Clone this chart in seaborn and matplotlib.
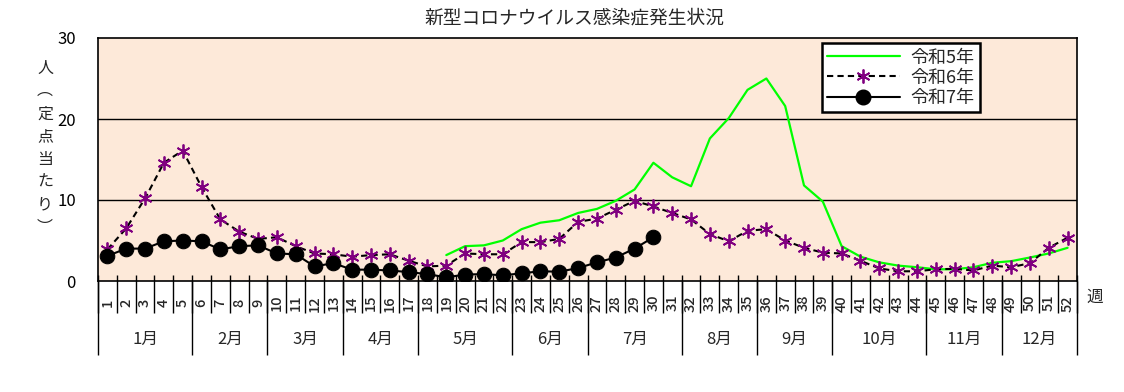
import matplotlib
matplotlib.use("Agg")
import matplotlib.pyplot as plt
import numpy as np
import pandas as pd
import seaborn as sns
from matplotlib.lines import Line2D

sns.set_theme(style="white")
plt.rcParams["font.family"] = ["Noto Sans CJK JP", "DejaVu Sans"]

weeks = list(range(1, 53))
month_labels = ["1月", "2月", "3月", "4月", "5月", "6月",
                "7月", "8月", "9月", "10月", "11月", "12月"]
weeks_per_month = [5, 4, 4, 4, 5, 4, 5, 4, 4, 5, 4, 4]
series_labels = ["令和5年", "令和6年", "令和7年"]

# 令和5年: data starts at week 19
r5_weeks = list(range(19, 53))
r5_values = [3.2, 4.3, 4.4, 5.0, 6.4, 7.2, 7.5, 8.4, 8.9, 9.9, 11.3, 14.6,
             12.8, 11.7, 17.6, 20.1, 23.6, 25.0, 21.6, 11.8, 9.8, 4.3,
             3.0, 2.3, 1.9, 1.7, 1.45, 1.45, 1.7, 2.25, 2.45, 2.9, 3.4, 4.1]
r6_values = [3.9, 6.5, 10.2, 14.6, 16.1, 11.6, 7.6, 6.1, 5.2, 5.4, 4.3, 3.4,
             3.3, 3.0, 3.2, 3.3, 2.5, 1.8, 1.9, 3.4, 3.3, 3.3, 4.8, 4.8,
             5.2, 7.3, 7.7, 8.8, 9.9, 9.2, 8.4, 7.6, 5.8, 4.9, 6.2, 6.4,
             5.0, 4.1, 3.5, 3.4, 2.5, 1.55, 1.2, 1.2, 1.45, 1.5, 1.3, 1.9,
             1.7, 2.2, 4.1, 5.35]
# 令和7年: data up to week 30
r7_weeks = list(range(1, 31))
r7_values = [3.1, 4.0, 4.0, 4.9, 5.0, 4.9, 3.9, 4.3, 4.4, 3.4, 3.3, 1.8,
             2.2, 1.4, 1.4, 1.3, 1.1, 0.85, 0.45, 0.8, 0.85, 0.7, 0.95, 1.2,
             1.15, 1.6, 2.3, 2.9, 4.0, 5.4]

df5 = pd.DataFrame({"week": r5_weeks, "value": r5_values})
df6 = pd.DataFrame({"week": weeks, "value": r6_values})
df7 = pd.DataFrame({"week": r7_weeks, "value": r7_values})

fig = plt.figure(figsize=(11.24, 3.92), dpi=100)
ax = fig.add_axes([98 / 1124, 1 - 281 / 392, 979 / 1124, 243 / 392])
ax.set_facecolor("#FDE9D9")

star = (6, 2, 0)
style5 = dict(color="#00FF00", linewidth=1.6)
style6 = dict(color="black", linewidth=1.5, linestyle=(0, (3, 2)),
              marker=star, markersize=10, markeredgewidth=1.3,
              markeredgecolor="#800080", markerfacecolor="#800080")
style7 = dict(color="black", linewidth=1.5, marker="o", markersize=10.5,
              markerfacecolor="black", markeredgecolor="black")

sns.lineplot(data=df5, x="week", y="value", ax=ax, zorder=2, **style5)
sns.lineplot(data=df6, x="week", y="value", ax=ax, zorder=3, **style6)
sns.lineplot(data=df7, x="week", y="value", ax=ax, zorder=4, **style7)

ax.set_xlim(0.5, 52.5)
ax.set_ylim(0, 30)
ax.set_yticks([0, 10, 20, 30])
ax.tick_params(axis="y", length=0, pad=16, labelsize=12, colors="black")
for y in [10, 20]:
    ax.axhline(y, color="black", linewidth=1, zorder=1)
for s in ax.spines.values():
    s.set_color("black")
    s.set_linewidth(1.2)
ax.set_xlabel("")
ax.set_ylabel("")

# category table under the axis
ax.set_xticks(weeks)
ax.set_xticklabels([str(w) for w in weeks], rotation=90, fontsize=10.5,
                   fontweight="medium", va="center")
ax.tick_params(axis="x", length=0, pad=16)
xt = ax.get_xaxis_transform()
bounds = np.arange(0.5, 53.5, 1)
ax.vlines(bounds, -0.13, 0.025, transform=xt, colors="black",
          linewidth=1, clip_on=False)
month_edges = np.concatenate([[0], np.cumsum(weeks_per_month)]) + 0.5
ax.vlines(month_edges, -0.305, 0, transform=xt, colors="black",
          linewidth=1, clip_on=False)
for i, m in enumerate(month_labels):
    mid = (month_edges[i] + month_edges[i + 1]) / 2
    ax.text(mid, -0.239, m, transform=xt, ha="center", va="center",
            fontsize=12)

fig.text(1095 / 1124, 1 - 297 / 392, "週", ha="center", va="center",
         fontsize=12)
fig.text(45 / 1124, 1 - 148 / 392, "人\n︵\n定\n点\n当\nた\nり\n︶",
         ha="center", va="center", fontsize=11.5, linespacing=1.45)
fig.text(574 / 1124, 1 - 18 / 392, "新型コロナウイルス感染症発生状況",
         ha="center", va="center", fontsize=13.5)

handles = [Line2D([], [], **style5), Line2D([], [], **style6),
           Line2D([], [], **style7)]
leg = ax.legend(handles, series_labels, loc="upper left",
                bbox_to_anchor=(0.7395, 0.979), fontsize=13, frameon=True,
                fancybox=False, framealpha=1, edgecolor="black",
                handlelength=4.0, handletextpad=0.6, labelspacing=0.12,
                borderpad=0.3, borderaxespad=0)
leg.get_frame().set_linewidth(1.8)

fig.savefig("out.png", dpi=100)
